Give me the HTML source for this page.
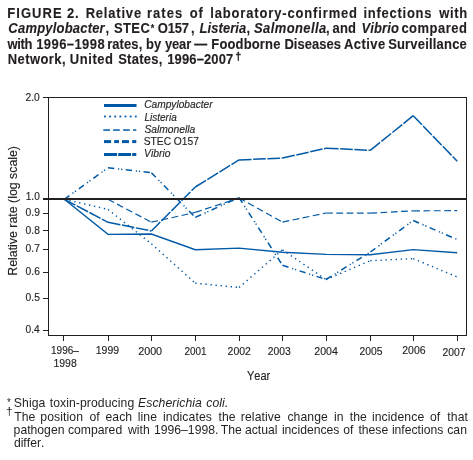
<!DOCTYPE html>
<html><head><meta charset="utf-8"><style>
html,body{margin:0;padding:0;background:#fff;width:473px;height:460px;overflow:hidden}
svg{display:block;will-change:transform}
text{font-family:"Liberation Sans",sans-serif;font-kerning:none}
</style></head><body>
<svg width="473" height="460" viewBox="0 0 473 460">
<rect width="473" height="460" fill="#fff"/>
<text transform="matrix(0.9286,0,0,1,7.33,17.60)" font-size="14" font-weight="bold" font-style="normal" letter-spacing="1.113" fill="#231f20" stroke="#231f20" stroke-width="0.12">FIGURE</text>
<text transform="matrix(0.9286,0,0,1,66.95,17.60)" font-size="14" font-weight="bold" font-style="normal" letter-spacing="0.915" fill="#231f20" stroke="#231f20" stroke-width="0.12">2.</text>
<text transform="matrix(0.9286,0,0,1,85.63,17.60)" font-size="14" font-weight="bold" font-style="normal" letter-spacing="0.870" fill="#231f20" stroke="#231f20" stroke-width="0.12">Relative</text>
<text transform="matrix(0.9286,0,0,1,146.94,17.60)" font-size="14" font-weight="bold" font-style="normal" letter-spacing="1.134" fill="#231f20" stroke="#231f20" stroke-width="0.12">rates</text>
<text transform="matrix(0.9286,0,0,1,189.69,17.60)" font-size="14" font-weight="bold" font-style="normal" letter-spacing="0.915" fill="#231f20" stroke="#231f20" stroke-width="0.12">of</text>
<text transform="matrix(0.9286,0,0,1,210.19,17.60)" font-size="14" font-weight="bold" font-style="normal" letter-spacing="0.919" fill="#231f20" stroke="#231f20" stroke-width="0.12">laboratory-confirmed</text>
<text transform="matrix(0.9286,0,0,1,363.39,17.60)" font-size="14" font-weight="bold" font-style="normal" letter-spacing="0.807" fill="#231f20" stroke="#231f20" stroke-width="0.12">infections</text>
<text transform="matrix(0.9286,0,0,1,439.24,17.60)" font-size="14" font-weight="bold" font-style="normal" letter-spacing="0.673" fill="#231f20" stroke="#231f20" stroke-width="0.12">with</text>
<text transform="matrix(0.9286,0,0,1,8.37,32.90)" font-size="14" font-weight="bold" font-style="italic" letter-spacing="0.218" fill="#231f20" stroke="#231f20" stroke-width="0.12">Campylobacter</text>
<text transform="matrix(0.9286,0,0,1,105.42,32.90)" font-size="14" font-weight="bold" font-style="normal" letter-spacing="0.269" fill="#231f20" stroke="#231f20" stroke-width="0.12">,</text>
<text transform="matrix(0.9286,0,0,1,113.93,32.90)" font-size="14" font-weight="bold" font-style="normal" letter-spacing="0.452" fill="#231f20" stroke="#231f20" stroke-width="0.12">STEC</text>
<text transform="matrix(0.9286,0,0,1,157.87,32.90)" font-size="14" font-weight="bold" font-style="normal" letter-spacing="-0.286" fill="#231f20" stroke="#231f20" stroke-width="0.12">O157</text>
<text transform="matrix(0.9286,0,0,1,190.92,32.90)" font-size="14" font-weight="bold" font-style="normal" letter-spacing="0.269" fill="#231f20" stroke="#231f20" stroke-width="0.12">,</text>
<text transform="matrix(0.9286,0,0,1,199.57,32.90)" font-size="14" font-weight="bold" font-style="italic" letter-spacing="0.072" fill="#231f20" stroke="#231f20" stroke-width="0.12">Listeria</text>
<text transform="matrix(0.9286,0,0,1,246.42,32.90)" font-size="14" font-weight="bold" font-style="normal" letter-spacing="0.269" fill="#231f20" stroke="#231f20" stroke-width="0.12">,</text>
<text transform="matrix(0.9286,0,0,1,254.04,32.90)" font-size="14" font-weight="bold" font-style="italic" letter-spacing="0.431" fill="#231f20" stroke="#231f20" stroke-width="0.12">Salmonella</text>
<text transform="matrix(0.9286,0,0,1,326.12,32.90)" font-size="14" font-weight="bold" font-style="normal" letter-spacing="0.269" fill="#231f20" stroke="#231f20" stroke-width="0.12">,</text>
<text transform="matrix(0.9286,0,0,1,332.42,32.90)" font-size="14" font-weight="bold" font-style="normal" letter-spacing="0.269" fill="#231f20" stroke="#231f20" stroke-width="0.12">and</text>
<text transform="matrix(0.9286,0,0,1,361.61,32.90)" font-size="14" font-weight="bold" font-style="italic" letter-spacing="0.101" fill="#231f20" stroke="#231f20" stroke-width="0.12">Vibrio</text>
<text transform="matrix(0.9286,0,0,1,401.39,32.90)" font-size="14" font-weight="bold" font-style="normal" letter-spacing="0.544" fill="#231f20" stroke="#231f20" stroke-width="0.12">compared</text>
<text transform="matrix(0.9286,0,0,1,7.44,48.50)" font-size="14" font-weight="bold" font-style="normal" letter-spacing="-0.332" fill="#231f20" stroke="#231f20" stroke-width="0.12">with</text>
<text transform="matrix(0.9286,0,0,1,36.18,48.50)" font-size="14" font-weight="bold" font-style="normal" letter-spacing="0.464" fill="#231f20" stroke="#231f20" stroke-width="0.12">1996–1998</text>
<text transform="matrix(0.9286,0,0,1,107.14,48.50)" font-size="14" font-weight="bold" font-style="normal" letter-spacing="0.108" fill="#231f20" stroke="#231f20" stroke-width="0.12">rates,</text>
<text transform="matrix(0.9286,0,0,1,145.94,48.50)" font-size="14" font-weight="bold" font-style="normal" letter-spacing="0.108" fill="#231f20" stroke="#231f20" stroke-width="0.12">by</text>
<text transform="matrix(0.9286,0,0,1,164.90,48.50)" font-size="14" font-weight="bold" font-style="normal" letter-spacing="-0.126" fill="#231f20" stroke="#231f20" stroke-width="0.12">year</text>
<text transform="matrix(0.9286,0,0,1,194.30,48.50)" font-size="14" font-weight="bold" font-style="normal" letter-spacing="0.108" fill="#231f20" stroke="#231f20" stroke-width="0.12">—</text>
<text transform="matrix(0.9286,0,0,1,211.33,48.50)" font-size="14" font-weight="bold" font-style="normal" letter-spacing="0.167" fill="#231f20" stroke="#231f20" stroke-width="0.12">Foodborne</text>
<text transform="matrix(0.9286,0,0,1,284.43,48.50)" font-size="14" font-weight="bold" font-style="normal" letter-spacing="0.050" fill="#231f20" stroke="#231f20" stroke-width="0.12">Diseases</text>
<text transform="matrix(0.9286,0,0,1,343.98,48.50)" font-size="14" font-weight="bold" font-style="normal" letter-spacing="0.463" fill="#231f20" stroke="#231f20" stroke-width="0.12">Active</text>
<text transform="matrix(0.9286,0,0,1,388.13,48.50)" font-size="14" font-weight="bold" font-style="normal" letter-spacing="0.208" fill="#231f20" stroke="#231f20" stroke-width="0.12">Surveillance</text>
<text transform="matrix(0.9286,0,0,1,7.63,63.60)" font-size="14" font-weight="bold" font-style="normal" letter-spacing="0.483" fill="#231f20" stroke="#231f20" stroke-width="0.12">Network,</text>
<text transform="matrix(0.9286,0,0,1,69.82,63.60)" font-size="14" font-weight="bold" font-style="normal" letter-spacing="0.602" fill="#231f20" stroke="#231f20" stroke-width="0.12">United</text>
<text transform="matrix(0.9286,0,0,1,118.13,63.60)" font-size="14" font-weight="bold" font-style="normal" letter-spacing="0.308" fill="#231f20" stroke="#231f20" stroke-width="0.12">States,</text>
<text transform="matrix(0.9286,0,0,1,167.18,63.60)" font-size="14" font-weight="bold" font-style="normal" letter-spacing="0.151" fill="#231f20" stroke="#231f20" stroke-width="0.12">1996–2007</text>
<text x="235.61" y="59.90" font-size="10.4" font-weight="bold" font-style="normal" textLength="5.67" lengthAdjust="spacingAndGlyphs" fill="#231f20" stroke="#231f20" stroke-width="0.35">†</text>
<text x="150.77" y="31.90" font-size="11.8" font-weight="bold" font-style="normal" textLength="3.54" lengthAdjust="spacingAndGlyphs" fill="#231f20" stroke="#231f20" stroke-width="0.12">*</text>
<g stroke="#231f20" stroke-width="1" fill="none" shape-rendering="crispEdges">
<path d="M43,97.5 H466.5 V335.5 H48.5 V97.5"/>
<path d="M43,213.5 H48.5"/>
<path d="M43,230.5 H48.5"/>
<path d="M43,249.5 H48.5"/>
<path d="M43,272.5 H48.5"/>
<path d="M43,298.5 H48.5"/>
<path d="M43,330.5 H48.5"/>
<path d="M63.5,336 V341"/>
<path d="M108.5,336 V341"/>
<path d="M151.5,336 V341"/>
<path d="M195.5,336 V341"/>
<path d="M239.5,336 V341"/>
<path d="M282.5,336 V341"/>
<path d="M326.5,336 V341"/>
<path d="M370.5,336 V341"/>
<path d="M413.5,336 V341"/>
<path d="M457.5,336 V341"/>
</g>
<text x="25.48" y="101.00" font-size="11" font-weight="normal" font-style="normal" textLength="14.32" lengthAdjust="spacingAndGlyphs" fill="#231f20" stroke="#231f20" stroke-width="0.15">2.0</text>
<text x="25.73" y="200.00" font-size="11" font-weight="normal" font-style="normal" textLength="14.07" lengthAdjust="spacingAndGlyphs" fill="#231f20" stroke="#231f20" stroke-width="0.15">1.0</text>
<text x="25.60" y="216.00" font-size="11" font-weight="normal" font-style="normal" textLength="14.29" lengthAdjust="spacingAndGlyphs" fill="#231f20" stroke="#231f20" stroke-width="0.15">0.9</text>
<text x="25.60" y="233.80" font-size="11" font-weight="normal" font-style="normal" textLength="14.25" lengthAdjust="spacingAndGlyphs" fill="#231f20" stroke="#231f20" stroke-width="0.15">0.8</text>
<text x="25.60" y="251.70" font-size="11" font-weight="normal" font-style="normal" textLength="14.32" lengthAdjust="spacingAndGlyphs" fill="#231f20" stroke="#231f20" stroke-width="0.15">0.7</text>
<text x="25.60" y="274.90" font-size="11" font-weight="normal" font-style="normal" textLength="14.25" lengthAdjust="spacingAndGlyphs" fill="#231f20" stroke="#231f20" stroke-width="0.15">0.6</text>
<text x="25.60" y="301.00" font-size="11" font-weight="normal" font-style="normal" textLength="14.23" lengthAdjust="spacingAndGlyphs" fill="#231f20" stroke="#231f20" stroke-width="0.15">0.5</text>
<text x="25.60" y="333.00" font-size="11" font-weight="normal" font-style="normal" textLength="14.09" lengthAdjust="spacingAndGlyphs" fill="#231f20" stroke="#231f20" stroke-width="0.15">0.4</text>
<text x="51.04" y="354.30" font-size="11" font-weight="normal" font-style="normal" textLength="27.77" lengthAdjust="spacingAndGlyphs" fill="#231f20" stroke="#231f20" stroke-width="0.15">1996–</text>
<text x="53.50" y="367.00" font-size="11" font-weight="normal" font-style="normal" textLength="23.25" lengthAdjust="spacingAndGlyphs" fill="#231f20" stroke="#231f20" stroke-width="0.15">1998</text>
<text x="95.80" y="354.30" font-size="11" font-weight="normal" font-style="normal" textLength="23.29" lengthAdjust="spacingAndGlyphs" fill="#231f20" stroke="#231f20" stroke-width="0.15">1999</text>
<text x="138.16" y="354.50" font-size="11" font-weight="normal" font-style="normal" textLength="23.96" lengthAdjust="spacingAndGlyphs" fill="#231f20" stroke="#231f20" stroke-width="0.15">2000</text>
<text x="184.40" y="354.50" font-size="11" font-weight="normal" font-style="normal" textLength="22.08" lengthAdjust="spacingAndGlyphs" fill="#231f20" stroke="#231f20" stroke-width="0.15">2001</text>
<text x="227.57" y="354.50" font-size="11" font-weight="normal" font-style="normal" textLength="23.36" lengthAdjust="spacingAndGlyphs" fill="#231f20" stroke="#231f20" stroke-width="0.15">2002</text>
<text x="267.68" y="354.50" font-size="11" font-weight="normal" font-style="normal" textLength="22.97" lengthAdjust="spacingAndGlyphs" fill="#231f20" stroke="#231f20" stroke-width="0.15">2003</text>
<text x="314.27" y="354.50" font-size="11" font-weight="normal" font-style="normal" textLength="23.54" lengthAdjust="spacingAndGlyphs" fill="#231f20" stroke="#231f20" stroke-width="0.15">2004</text>
<text x="359.48" y="354.50" font-size="11" font-weight="normal" font-style="normal" textLength="22.95" lengthAdjust="spacingAndGlyphs" fill="#231f20" stroke="#231f20" stroke-width="0.15">2005</text>
<text x="402.27" y="354.00" font-size="11" font-weight="normal" font-style="normal" textLength="23.29" lengthAdjust="spacingAndGlyphs" fill="#231f20" stroke="#231f20" stroke-width="0.15">2006</text>
<text x="442.38" y="355.70" font-size="11" font-weight="normal" font-style="normal" textLength="23.04" lengthAdjust="spacingAndGlyphs" fill="#231f20" stroke="#231f20" stroke-width="0.15">2007</text>
<text x="246.96" y="379.80" font-size="12.3" font-weight="normal" font-style="normal" textLength="23.22" lengthAdjust="spacingAndGlyphs" fill="#231f20" stroke="#231f20" stroke-width="0.15">Year</text>
<text transform="rotate(-90)" x="-275.71" y="17.4" font-size="12.3" textLength="129.68" lengthAdjust="spacingAndGlyphs" fill="#231f20" stroke="#231f20" stroke-width="0.15">Relative rate (log scale)</text>
<g fill="none" stroke="#0059a6" stroke-width="1.2" stroke-dasharray="6.8 3.5"><path d="M64.3,199.3L108.0,199.3"/><path d="M108.0,199.3L151.4,222.2"/><path d="M151.4,222.2L195.3,212.4"/><path d="M195.3,212.4L239.0,198.0"/><path d="M239.0,198.0L282.5,222.1"/><path d="M282.5,222.1L326.0,213.0"/><path d="M326.0,213.0L370.3,213.2"/><path d="M370.3,213.2L413.2,210.8"/><path d="M413.2,210.8L457.2,210.7"/></g>
<g fill="none" stroke="#0059a6" stroke-width="1.45" stroke-dasharray="1.35 3.72"><path d="M64.3,199.3L108.0,209.4"/><path d="M108.0,209.4L151.4,243.8"/><path d="M151.4,243.8L195.3,283.2"/><path d="M195.3,283.2L239.0,287.5"/><path d="M239.0,287.5L282.5,249.8"/><path d="M282.5,249.8L326.0,279.5"/><path d="M326.0,279.5L370.3,260.7"/><path d="M370.3,260.7L413.2,258.6"/><path d="M413.2,258.6L457.2,277.0"/></g>
<polyline points="64.3,199.3 108.0,234.4 151.4,234.0 195.3,249.7 239.0,248.1 282.5,252.2 326.0,254.4 370.3,254.7 413.2,249.6 457.2,252.8" fill="none" stroke="#0059a6" stroke-linejoin="miter" stroke-width="1.4"/>
<g fill="none" stroke="#0059a6" stroke-width="1.5" stroke-dasharray="6.3 3.8 1.2 1.9 1.2 3.5"><path d="M64.3,199.3L108.0,167.8"/><path d="M108.0,167.8L151.4,172.7"/><path d="M151.4,172.7L195.3,217.4"/><path d="M195.3,217.4L239.0,197.5"/><path d="M239.0,197.5L282.5,265.3"/><path d="M282.5,265.3L326.0,279.5"/><path d="M326.0,279.5L370.3,252.0"/><path d="M370.3,252.0L413.2,220.5"/><path d="M413.2,220.5L457.2,239.5"/></g>
<g fill="none" stroke="#0059a6" stroke-width="1.5" stroke-dasharray="12.6 1.6"><path d="M64.3,199.3L108.0,222.3"/><path d="M108.0,222.3L151.4,231.0"/><path d="M151.4,231.0L195.3,187.0"/><path d="M195.3,187.0L239.0,159.9"/><path d="M239.0,159.9L282.5,158.1"/><path d="M282.5,158.1L326.0,148.2"/><path d="M326.0,148.2L370.3,150.3"/><path d="M370.3,150.3L413.2,115.7"/><path d="M413.2,115.7L457.2,161.2"/></g>
<rect x="43" y="198" width="423.5" height="2" fill="#231f20"/>
<rect x="104" y="104" width="32.5" height="3" fill="#0059a6"/>
<rect x="104.00" y="115.6" width="1.8" height="1.8" fill="#0059a6"/>
<rect x="109.15" y="115.6" width="1.8" height="1.8" fill="#0059a6"/>
<rect x="114.30" y="115.6" width="1.8" height="1.8" fill="#0059a6"/>
<rect x="119.45" y="115.6" width="1.8" height="1.8" fill="#0059a6"/>
<rect x="124.60" y="115.6" width="1.8" height="1.8" fill="#0059a6"/>
<rect x="129.75" y="115.6" width="1.8" height="1.8" fill="#0059a6"/>
<rect x="134.90" y="115.6" width="1.8" height="1.8" fill="#0059a6"/>
<rect x="103.3" y="129.3" width="6.70" height="1.5" fill="#0059a6"/>
<rect x="113.1" y="129.3" width="6.70" height="1.5" fill="#0059a6"/>
<rect x="123.1" y="129.3" width="6.70" height="1.5" fill="#0059a6"/>
<rect x="133.1" y="129.3" width="3.20" height="1.5" fill="#0059a6"/>
<rect x="104" y="140.1" width="7.00" height="3" fill="#0059a6"/>
<rect x="114.2" y="140.1" width="4.80" height="3" fill="#0059a6"/>
<rect x="122" y="140.1" width="7.00" height="3" fill="#0059a6"/>
<rect x="132.2" y="140.1" width="4.10" height="3" fill="#0059a6"/>
<rect x="104" y="153" width="13.00" height="3" fill="#0059a6"/>
<rect x="118.2" y="153" width="12.80" height="3" fill="#0059a6"/>
<rect x="132.2" y="153" width="4.10" height="3" fill="#0059a6"/>
<text x="144.14" y="107.80" font-size="11" font-weight="normal" font-style="italic" textLength="68.52" lengthAdjust="spacingAndGlyphs" fill="#231f20" stroke="#231f20" stroke-width="0.15">Campylobacter</text>
<text x="144.39" y="120.50" font-size="11" font-weight="normal" font-style="italic" textLength="32.35" lengthAdjust="spacingAndGlyphs" fill="#231f20" stroke="#231f20" stroke-width="0.15">Listeria</text>
<text x="144.41" y="133.20" font-size="11" font-weight="normal" font-style="italic" textLength="50.94" lengthAdjust="spacingAndGlyphs" fill="#231f20" stroke="#231f20" stroke-width="0.15">Salmonella</text>
<text x="143.74" y="145.00" font-size="11" font-weight="normal" font-style="normal" textLength="55.18" lengthAdjust="spacingAndGlyphs" fill="#231f20" stroke="#231f20" stroke-width="0.15">STEC O157</text>
<text x="144.11" y="156.90" font-size="11" font-weight="normal" font-style="italic" textLength="26.32" lengthAdjust="spacingAndGlyphs" fill="#231f20" stroke="#231f20" stroke-width="0.15">Vibrio</text>
<text x="7.04" y="405.50" font-size="10" font-weight="normal" font-style="normal" textLength="3.81" lengthAdjust="spacingAndGlyphs" fill="#231f20">*</text>
<text x="6.10" y="414.70" font-size="11.4" font-weight="normal" font-style="normal" textLength="6.59" lengthAdjust="spacingAndGlyphs" fill="#231f20">†</text>
<text x="13.85" y="406.80" font-size="12.2" font-weight="normal" font-style="normal" letter-spacing="0.080" fill="#231f20">Shiga</text>
<text x="49.72" y="406.80" font-size="12.2" font-weight="normal" font-style="normal" letter-spacing="0.080" fill="#231f20">toxin-producing</text>
<text x="138.02" y="406.80" font-size="12.2" font-weight="normal" font-style="italic" letter-spacing="0.080" fill="#231f20">Escherichia</text>
<text x="206.30" y="406.80" font-size="12.2" font-weight="normal" font-style="italic" letter-spacing="0.080" fill="#231f20">coli.</text>
<text x="14.13" y="420.80" font-size="12.2" font-weight="normal" font-style="normal" letter-spacing="0.100" fill="#231f20">The</text>
<text x="40.31" y="420.80" font-size="12.2" font-weight="normal" font-style="normal" letter-spacing="0.100" fill="#231f20">position</text>
<text x="89.49" y="420.80" font-size="12.2" font-weight="normal" font-style="normal" letter-spacing="0.100" fill="#231f20">of</text>
<text x="105.38" y="420.80" font-size="12.2" font-weight="normal" font-style="normal" letter-spacing="0.100" fill="#231f20">each</text>
<text x="137.68" y="420.80" font-size="12.2" font-weight="normal" font-style="normal" letter-spacing="0.100" fill="#231f20">line</text>
<text x="162.98" y="420.80" font-size="12.2" font-weight="normal" font-style="normal" letter-spacing="0.100" fill="#231f20">indicates</text>
<text x="218.42" y="420.80" font-size="12.2" font-weight="normal" font-style="normal" letter-spacing="0.100" fill="#231f20">the</text>
<text x="240.79" y="420.80" font-size="12.2" font-weight="normal" font-style="normal" letter-spacing="0.100" fill="#231f20">relative</text>
<text x="287.38" y="420.80" font-size="12.2" font-weight="normal" font-style="normal" letter-spacing="0.100" fill="#231f20">change</text>
<text x="333.88" y="420.80" font-size="12.2" font-weight="normal" font-style="normal" letter-spacing="0.100" fill="#231f20">in</text>
<text x="349.72" y="420.80" font-size="12.2" font-weight="normal" font-style="normal" letter-spacing="0.100" fill="#231f20">the</text>
<text x="371.88" y="420.80" font-size="12.2" font-weight="normal" font-style="normal" letter-spacing="0.100" fill="#231f20">incidence</text>
<text x="429.99" y="420.80" font-size="12.2" font-weight="normal" font-style="normal" letter-spacing="0.100" fill="#231f20">of</text>
<text x="447.32" y="420.80" font-size="12.2" font-weight="normal" font-style="normal" letter-spacing="0.100" fill="#231f20">that</text>
<text x="13.61" y="434.30" font-size="12.2" font-weight="normal" font-style="normal" fill="#231f20">pathogen</text>
<text x="67.98" y="434.30" font-size="12.2" font-weight="normal" font-style="normal" fill="#231f20">compared</text>
<text x="128.02" y="434.30" font-size="12.2" font-weight="normal" font-style="normal" fill="#231f20">with</text>
<text x="153.97" y="434.30" font-size="12.2" font-weight="normal" font-style="normal" fill="#231f20">1996–1998.</text>
<text x="220.83" y="434.30" font-size="12.2" font-weight="normal" font-style="normal" fill="#231f20">The</text>
<text x="244.88" y="434.30" font-size="12.2" font-weight="normal" font-style="normal" fill="#231f20">actual</text>
<text x="281.88" y="434.30" font-size="12.2" font-weight="normal" font-style="normal" fill="#231f20">incidences</text>
<text x="343.29" y="434.30" font-size="12.2" font-weight="normal" font-style="normal" fill="#231f20">of</text>
<text x="358.42" y="434.30" font-size="12.2" font-weight="normal" font-style="normal" fill="#231f20">these</text>
<text x="391.88" y="434.30" font-size="12.2" font-weight="normal" font-style="normal" fill="#231f20">infections</text>
<text x="447.28" y="434.30" font-size="12.2" font-weight="normal" font-style="normal" fill="#231f20">can</text>
<text x="13.89" y="447.40" font-size="12.2" font-weight="normal" font-style="normal" fill="#231f20">differ.</text>
</svg>
</body></html>
